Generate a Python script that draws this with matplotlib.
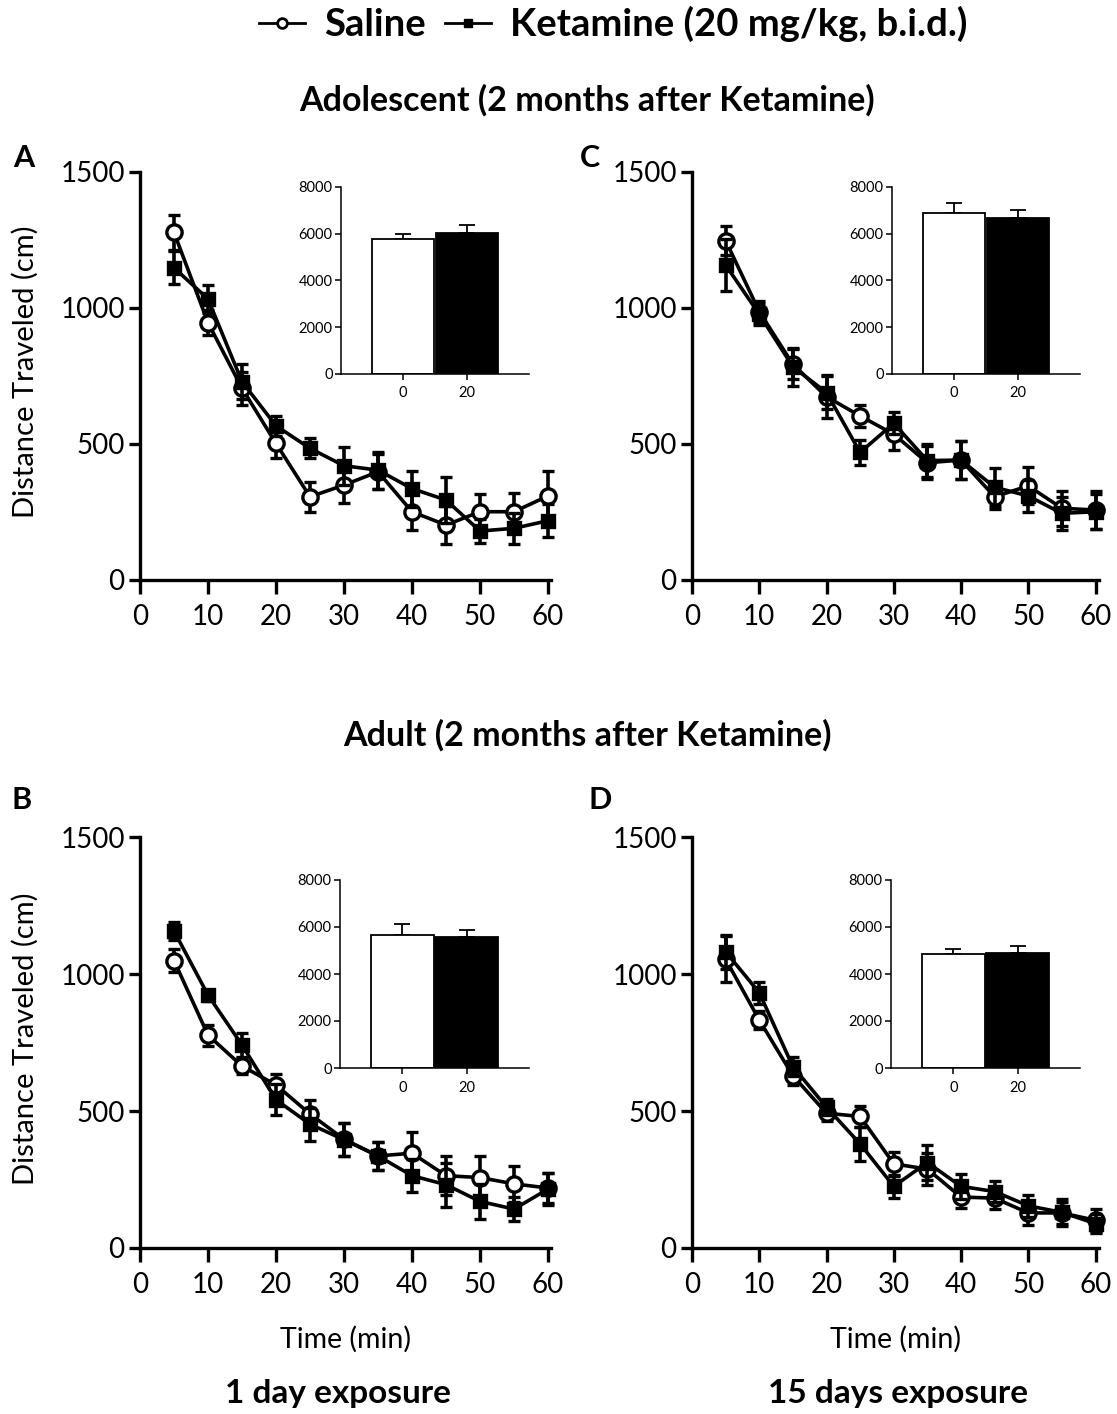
import matplotlib
matplotlib.use('Agg')
import matplotlib.pyplot as plt
from matplotlib.lines import Line2D

plt.rcParams['font.family'] = ['Lato', 'DejaVu Sans']

# time bins (min)
time_min = [5, 10, 15, 20, 25, 30, 35, 40, 45, 50, 55, 60]

# A: adolescent, 1 day exposure
A_sal = [1278, 946, 705, 502, 306, 349, 398, 251, 202, 251, 251, 309]
A_sal_err = [65, 45, 60, 55, 55, 67, 65, 67, 70, 65, 68, 90]
A_ket = [1148, 1033, 729, 567, 484, 420, 404, 336, 294, 180, 190, 218]
A_ket_err = [60, 52, 65, 36, 37, 70, 68, 66, 86, 45, 58, 61]

# C: adolescent, 15 days exposure
C_sal = [1248, 987, 793, 674, 603, 536, 431, 441, 306, 346, 264, 257]
C_sal_err = [53, 40, 55, 80, 40, 58, 60, 70, 46, 68, 65, 70]
C_ket = [1158, 977, 784, 689, 469, 576, 439, 441, 341, 309, 245, 251]
C_ket_err = [94, 40, 70, 60, 46, 40, 60, 70, 70, 60, 60, 65]

# B: adult, 1 day exposure
B_sal = [1049, 777, 664, 595, 489, 397, 336, 346, 264, 257, 234, 219]
B_sal_err = [42, 38, 30, 40, 51, 60, 50, 79, 70, 77, 66, 55]
B_ket = [1157, 923, 741, 541, 452, 395, 336, 264, 231, 170, 142, 215]
B_ket_err = [34, 20, 43, 57, 60, 60, 50, 61, 80, 64, 45, 57]

# D: adult, 15 days exposure
D_sal = [1054, 832, 629, 492, 480, 307, 288, 186, 182, 128, 128, 101]
D_sal_err = [85, 34, 35, 30, 39, 45, 57, 40, 40, 43, 40, 41]
D_ket = [1081, 932, 662, 514, 380, 225, 312, 225, 206, 154, 130, 89]
D_ket_err = [61, 40, 35, 30, 61, 42, 64, 46, 37, 40, 49, 35]

# insets: total distance, dose 0 vs 20
dose_labels = ['0', '20']
A_total = [5773, 6030]
A_total_err = [215, 340]
C_total = [6879, 6695]
C_total_err = [425, 330]
B_total = [5641, 5556]
B_total_err = [500, 327]
D_total = [4843, 4914]
D_total_err = [228, 257]

W, H = 1117, 1414


def fx(px):
    return px / W


def fy(py):
    return 1 - py / H


fig = plt.figure(figsize=(W / 100, H / 100), dpi=100)


def draw_panel(rect, sal, sal_err, ket, ket_err, ylabel=False, xlabel=False):
    ax = fig.add_axes(rect)
    for vals, errs, mk, ms, face, z in [(sal, sal_err, 'o', 11, 'white', 3),
                                        (ket, ket_err, 's', 8, 'black', 4)]:
        eb = ax.errorbar(time_min, vals, yerr=errs, color='black', lw=2.6,
                         marker=mk, ms=ms, mfc=face, mec='black', mew=2.4,
                         capsize=4.5, capthick=2.6, elinewidth=2.6, zorder=z)
        for art in eb.get_children():
            art.set_clip_on(False)
    ax.set_xlim(0, 60.5)
    ax.set_ylim(0, 1500)
    ax.set_xticks(range(0, 61, 10))
    ax.set_yticks([0, 500, 1000, 1500])
    for s in ['top', 'right']:
        ax.spines[s].set_visible(False)
    for s in ['left', 'bottom']:
        ax.spines[s].set_linewidth(2.4)
    ax.tick_params(width=2.4, length=8, labelsize=20, pad=3)
    ax.tick_params(axis='x', length=10, pad=7)
    if ylabel:
        ax.set_ylabel('Distance Traveled (cm)', fontsize=21)
        ax.yaxis.set_label_coords(-0.245, 0.51)
    if xlabel:
        ax.set_xlabel('Time (min)', fontsize=20.5, labelpad=20)
    return ax


def draw_inset(rect, totals, errs):
    ax = fig.add_axes(rect)
    ax.bar([0, 1], totals, width=0.98, color=['white', 'black'],
           edgecolor='black', linewidth=1.3, zorder=2)
    ax.errorbar([0, 1], totals, yerr=[[0, 0], errs], fmt='none',
                ecolor='black', elinewidth=1.3, capsize=6, capthick=1.3, zorder=1)
    ax.set_xlim(-0.97, 1.97)
    ax.set_ylim(0, 8000)
    ax.set_xticks([0, 1])
    ax.set_xticklabels(dose_labels)
    ax.set_yticks([0, 2000, 4000, 6000, 8000])
    for s in ['top', 'right']:
        ax.spines[s].set_visible(False)
    for s in ['left', 'bottom']:
        ax.spines[s].set_linewidth(1.1)
    ax.tick_params(width=1.1, length=4, labelsize=10.5, pad=2)
    ax.tick_params(axis='x', pad=5)
    ax.patch.set_alpha(0)
    return ax


wA = 60.5 * 6.8 / W
wC = 60.5 * 6.725 / W
hTop = 408 / H
hBot = 411 / H

draw_panel([fx(140), fy(580), wA, hTop], A_sal, A_sal_err, A_ket, A_ket_err, ylabel=True)
draw_panel([fx(692), fy(580), wC, hTop], C_sal, C_sal_err, C_ket, C_ket_err)
draw_panel([fx(140), fy(1248), wA, hBot], B_sal, B_sal_err, B_ket, B_ket_err, ylabel=True, xlabel=True)
draw_panel([fx(692), fy(1248), wC, hBot], D_sal, D_sal_err, D_ket, D_ket_err, xlabel=True)

draw_inset([fx(341), fy(374), 188 / W, 187 / H], A_total, A_total_err)
draw_inset([fx(892), fy(374), 188 / W, 187 / H], C_total, C_total_err)
draw_inset([fx(340), fy(1068), 189 / W, 188 / H], B_total, B_total_err)
draw_inset([fx(891), fy(1068), 189 / W, 188 / H], D_total, D_total_err)

# legend
handles = [Line2D([], [], color='black', lw=2.0, marker='o', ms=7, mfc='white', mew=2),
           Line2D([], [], color='black', lw=2.0, marker='s', ms=6, mfc='black')]
fig.legend(handles, ['Saline', 'Ketamine (20 mg/kg, b.i.d.)'], loc='center',
           bbox_to_anchor=(fx(613), fy(24)), ncol=2, frameon=False,
           prop={'weight': 'bold', 'size': 27.5}, handlelength=1.2,
           handletextpad=0.5, columnspacing=0.5)

fig.text(fx(587), fy(100), 'Adolescent (2 months after Ketamine)', ha='center',
         va='center', fontsize=24.5, fontweight='bold')
fig.text(fx(587), fy(735), 'Adult (2 months after Ketamine)', ha='center',
         va='center', fontsize=24.5, fontweight='bold')
fig.text(fx(338), fy(1393), '1 day exposure', ha='center', va='center',
         fontsize=24, fontweight='bold')
fig.text(fx(898), fy(1393), '15 days exposure', ha='center', va='center',
         fontsize=24, fontweight='bold')

for lbl, x, y in [('A', 24, 158), ('C', 590, 158), ('B', 22, 800), ('D', 600, 800)]:
    fig.text(fx(x), fy(y), lbl, ha='center', va='center', fontsize=22, fontweight='bold')

fig.savefig('out.png', dpi=100)
